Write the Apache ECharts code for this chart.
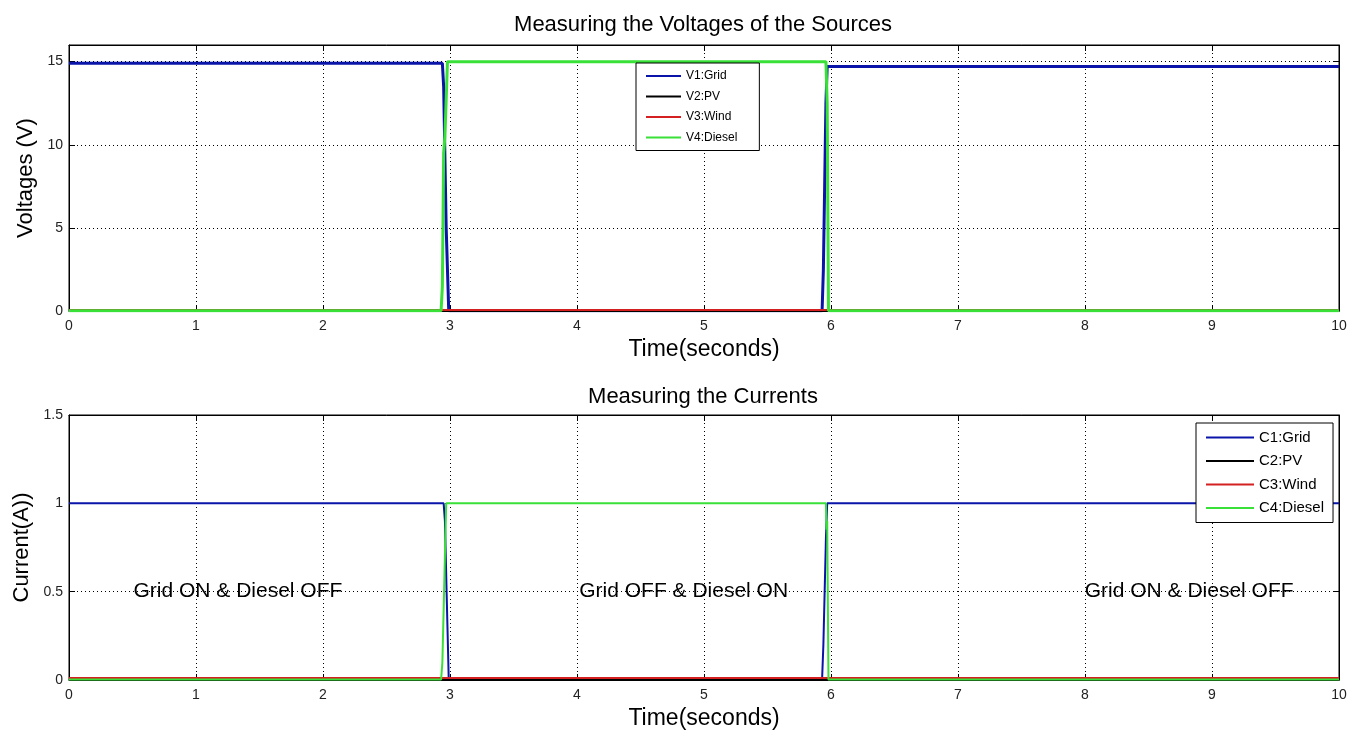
<!DOCTYPE html>
<html><head><meta charset="utf-8">
<script src="https://cdn.jsdelivr.net/npm/echarts@6/dist/echarts.min.js"></script>
<style>html,body{margin:0;padding:0;background:#fff}#c{width:1361px;height:734px}</style>
</head><body><div id="c"></div>
<script>
// ---- data ----
const vGrid   = [[0,14.9],[2.94,14.9],[2.95,13.5],[2.97,5],[2.99,0.02],[5.93,0.02],[5.94,2.5],[5.95,7.5],[5.96,12.5],[5.97,14.7],[10,14.7]];
const vPV     = [[0,0],[10,0]];
const vWind   = [[0,0.06],[10,0.06]];
const vDiesel = [[0,0.02],[2.93,0.02],[2.94,1.5],[2.95,9.5],[2.96,10.5],[2.98,15],[5.96,15],[5.97,12.5],[5.98,0.02],[10,0.02]];
const cGrid   = [[0,1],[2.95,1],[2.96,0.9],[2.98,0.3],[2.99,0.005],[5.93,0.005],[5.94,0.2],[5.96,0.8],[5.97,1],[10,1]];
const cPV     = [[0,0],[10,0]];
const cWind   = [[0,0.012],[10,0.012]];
const cDiesel = [[0,0.003],[2.93,0.003],[2.94,0.1],[2.96,0.7],[2.97,1],[5.96,1],[5.965,0.85],[5.97,0.9],[5.98,0.003],[10,0.003]];
const vNames = ['V1:Grid','V2:PV','V3:Wind','V4:Diesel'];
const cNames = ['C1:Grid','C2:PV','C3:Wind','C4:Diesel'];
const notes = [[1.33,0.5,'Grid ON & Diesel OFF'],[4.84,0.5,'Grid OFF & Diesel ON'],[8.82,0.5,'Grid ON & Diesel OFF']];
const colors = ['#0a14a8','#000000','#d42020','#38e038'];

const FONT = 'Liberation Sans, Arial, sans-serif';
const chart = echarts.init(document.getElementById('c'));

function xAx(gi, main){
  return {
    type:'value', gridIndex:gi, min:0, max:10, interval:1, position: main?'bottom':'top',
    name: main?'Time(seconds)':'', nameLocation:'middle', nameGap:27,
    nameTextStyle:{fontFamily:FONT,fontSize:23,color:'#000'},
    axisLine:{show:true,onZero:false,lineStyle:{color:'#000',width:1}},
    axisTick:{show:true,inside:true,length:6,lineStyle:{color:'#000'}},
    axisLabel:{show:main,fontFamily:FONT,fontSize:14,color:'#222',margin:8},
    splitLine:{show:main,lineStyle:{color:'#000',type:[1,3],width:1}}
  };
}
function yAx(gi, main, max, interval, name, nameGap){
  return {
    type:'value', gridIndex:gi, min:0, max:max, interval:interval, position: main?'left':'right',
    name: main?name:'', nameLocation:'middle', nameGap:nameGap,
    nameTextStyle:{fontFamily:FONT,fontSize:22,color:'#000'},
    axisLine:{show:true,onZero:false,lineStyle:{color:'#000',width:1}},
    axisTick:{show:true,inside:true,length:6,lineStyle:{color:'#000'}},
    axisLabel:{show:main,fontFamily:FONT,fontSize:14,color:'#222',margin:6,showMaxLabel: max!==16},
    splitLine:{show:main,lineStyle:{color:'#000',type:[1,3],width:1}}
  };
}
function ln(name, data, xi, yi, color, w, z){
  return {name, type:'line', data, xAxisIndex:xi, yAxisIndex:yi, symbol:'none', showSymbol:false,
    animation:false, lineStyle:{color, width:w}, itemStyle:{color}, z};
}
const vData=[vGrid,vPV,vWind,vDiesel], cData=[cGrid,cPV,cWind,cDiesel];
const series=[];
vNames.forEach((n,i)=>series.push(ln(n,vData[i],0,0,colors[i],i===0||i===3?3:2,2+i)));
cNames.forEach((n,i)=>series.push(ln(n,cData[i],2,2,colors[i],2,2+i)));
series.push({type:'scatter', xAxisIndex:2, yAxisIndex:2, symbolSize:0, silent:true, animation:false,
  itemStyle:{color:'#000', opacity:1}, data: notes.map(d=>({value:[d[0],d[1]],name:d[2]})),
  label:{show:true, position:'inside', formatter:p=>p.name, fontFamily:FONT, fontSize:21, fontWeight:'normal', color:'#000', opacity:1}, z:10});

const legendCommon = {orient:'vertical', itemHeight:14, itemGap:8.5, borderColor:'#000', borderWidth:1,
  backgroundColor:'#fff', selectedMode:false, itemStyle:{opacity:0}, z:20};

chart.setOption({
  backgroundColor:'#fff',
  animation:false,
  title:[
    {text:'Measuring the Voltages of the Sources', left:698, textAlign:'center', top:9,
     textStyle:{fontFamily:FONT,fontSize:22,fontWeight:'normal',color:'#000'}},
    {text:'Measuring the Currents', left:698, textAlign:'center', top:381,
     textStyle:{fontFamily:FONT,fontSize:22,fontWeight:'normal',color:'#000'}}
  ],
  grid:[
    {left:69, width:1270, top:45, height:266, show:true, borderColor:'#000', borderWidth:1, backgroundColor:'#fff'},
    {left:69, width:1270, top:415, height:265, show:true, borderColor:'#000', borderWidth:1, backgroundColor:'#fff'}
  ],
  xAxis:[xAx(0,true), xAx(0,false), xAx(1,true), xAx(1,false)],
  yAxis:[yAx(0,true,16,5,'Voltages (V)',30), yAx(0,false,16,5,'',0), yAx(1,true,1.5,0.5,'Current(A))',30), yAx(1,false,1.5,0.5,'',0)],
  legend:[
    Object.assign({}, legendCommon, {data:vNames, left:636, top:63, itemWidth:35, padding:[7,22,7,9],
     textStyle:{fontFamily:FONT,fontSize:12,color:'#000'}}),
    Object.assign({}, legendCommon, {data:cNames, left:1196, top:423, itemWidth:48, padding:[7,9,7,9],
     textStyle:{fontFamily:FONT,fontSize:15,color:'#000'}})
  ],
  series
});
</script></body></html>
